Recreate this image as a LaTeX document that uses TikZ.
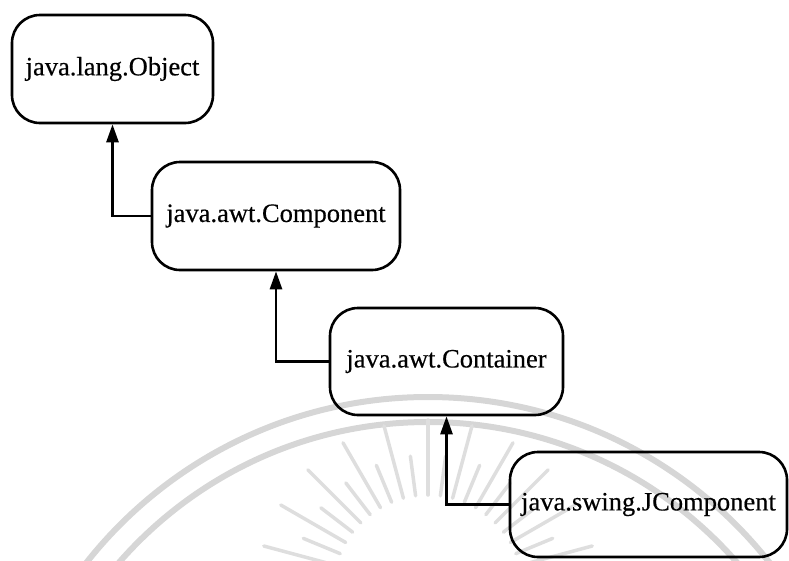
\documentclass[tikz,border=0pt]{standalone}
\usepackage{fontspec}
\setmainfont{Liberation Serif}
\newfontfamily\labelfont[FakeBold=0.4]{Liberation Serif}
\usetikzlibrary{arrows.meta,calc}

\tikzset{
  classbox/.style={draw=black, line width=2.6pt, rounded corners=28pt,
    inner sep=0pt, align=center, font=\labelfont\fontsize{26.5}{30}\selectfont},
  inherit/.style={draw=black, line width=2.6pt,
    -{Triangle[length=18pt,width=12pt]}},
  wmark/.style={draw=black!16, line width=6pt},
  wray/.style={draw=black!13, line width=3.5pt, line cap=round}
}

\begin{document}
\begin{tikzpicture}[x=1pt, y=-1pt]
  \useasboundingbox (0,0) rectangle (789,560);

  % faint seal printed behind the diagram
  \begin{scope}
    \clip (0,0) rectangle (789,560);
    \coordinate (sealc) at (428,832);
    \draw[wmark] (sealc) circle[radius=435];
    \draw[wmark] (sealc) circle[radius=410];
    \coordinate (sun) at (428,590);
    \foreach \a [count=\i] in {15,22.5,...,165} {
      \pgfmathsetmacro{\len}{mod(\i,2)==0 ? 135 : 170}
      \draw[wray] ($(sun)+({-cos(\a)*95},{-sin(\a)*95})$)
        -- ($(sun)+({-cos(\a)*\len},{-sin(\a)*\len})$);
    }
  \end{scope}

  % class hierarchy
  \node[classbox, minimum width=201pt, minimum height=108pt] (obj)  at (112.5,69)  {java.lang.Object};
  \node[classbox, minimum width=248pt, minimum height=108pt] (comp) at (276,216)   {java.awt.Component};
  \node[classbox, minimum width=233pt, minimum height=107pt] (cont) at (446.5,361.5) {java.awt.Container};
  \node[classbox, minimum width=277pt, minimum height=105pt] (jcomp) at (648.5,504.5) {java.swing.JComponent};

  % subclass -> superclass links
  \draw[inherit] (comp.west)  -| (obj.south);
  \draw[inherit] (cont.west)  -| (comp.south);
  \draw[inherit] (jcomp.west) -| (cont.south);
\end{tikzpicture}
\end{document}
